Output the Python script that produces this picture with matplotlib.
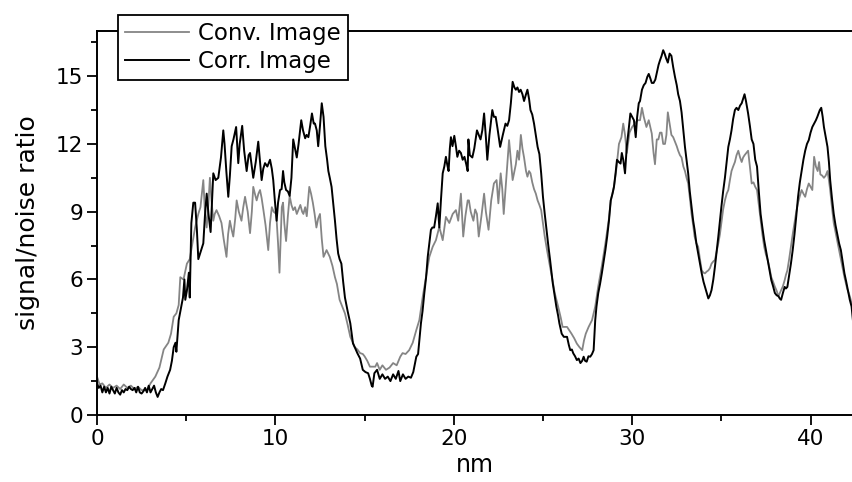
import numpy as np
import matplotlib.pyplot as plt

# Conventional image profile (grey)
conv_nm = [0.0, 0.15, 0.3, 0.5, 0.7, 0.9, 1.1, 1.3, 1.5, 1.7, 1.9, 2.1, 2.3, 2.5, 2.8, 3.0,
           3.27, 3.5, 3.74, 4.0, 4.15, 4.3, 4.45, 4.58, 4.67, 4.85, 5.04, 5.2, 5.35, 5.5, 5.68,
           5.8, 5.96, 6.05, 6.15, 6.25, 6.33, 6.42, 6.52, 6.6, 6.7, 6.85, 6.98, 7.1, 7.26, 7.35,
           7.45, 7.55, 7.64, 7.75, 7.83, 7.95, 8.1, 8.2, 8.3, 8.45, 8.58, 8.68, 8.76, 8.85, 8.95,
           9.05, 9.14, 9.23, 9.33, 9.45, 9.6, 9.7, 9.8, 9.9, 10.05, 10.15, 10.23, 10.3, 10.36,
           10.43, 10.5, 10.6, 10.7, 10.8, 10.9, 11.0, 11.1, 11.2, 11.3, 11.4, 11.5, 11.57, 11.67,
           11.76, 11.9, 12.0, 12.1, 12.2, 12.3, 12.4, 12.5, 12.6, 12.7, 12.87, 13.05, 13.2, 13.34,
           13.45, 13.6, 13.75, 13.9, 14.05, 14.2, 14.35, 14.45, 14.6, 14.75, 14.9, 15.0, 15.15,
           15.3, 15.45, 15.6, 15.7, 15.85, 16.0, 16.2, 16.4, 16.6, 16.8, 17.0, 17.13, 17.3, 17.5,
           17.7, 17.9, 18.07, 18.26, 18.44, 18.63, 18.82, 19.0, 19.19, 19.38, 19.56, 19.75, 19.94,
           20.12, 20.25, 20.4, 20.53, 20.65, 20.78, 20.85, 20.95, 21.1, 21.2, 21.3, 21.4, 21.55,
           21.7, 21.8, 21.95, 22.1, 22.25, 22.4, 22.5, 22.63, 22.72, 22.8, 22.9, 23.0, 23.1, 23.2,
           23.3, 23.4, 23.48, 23.57, 23.66, 23.76, 23.85, 23.94, 24.05, 24.13, 24.22, 24.3, 24.4,
           24.5, 24.6, 24.7, 24.8, 24.9, 25.0, 25.1, 25.25, 25.4, 25.55, 25.66, 25.85, 26.0, 26.1,
           26.35, 26.6, 26.75, 26.9, 27.05, 27.2, 27.3, 27.4, 27.56, 27.75, 27.93, 28.1, 28.3,
           28.5, 28.7, 28.8, 28.98, 29.1, 29.26, 29.4, 29.5, 29.6, 29.7, 29.85, 30.0, 30.15, 30.3,
           30.44, 30.55, 30.65, 30.8, 30.93, 31.1, 31.2, 31.28, 31.38, 31.47, 31.56, 31.65, 31.74,
           31.84, 31.92, 32.0, 32.1, 32.2, 32.3, 32.4, 32.5, 32.58, 32.68, 32.77, 32.87, 32.96,
           33.05, 33.14, 33.25, 33.33, 33.42, 33.5, 33.6, 33.7, 33.8, 33.9, 34.0, 34.08, 34.18,
           34.27, 34.36, 34.45, 34.55, 34.64, 34.73, 34.83, 34.92, 35.0, 35.1, 35.2, 35.3, 35.39,
           35.48, 35.57, 35.66, 35.76, 35.85, 35.95, 36.05, 36.14, 36.22, 36.3, 36.4, 36.5, 36.6,
           36.7, 36.8, 36.9, 37.0, 37.1, 37.2, 37.3, 37.4, 37.5, 37.6, 37.7, 37.8, 37.9, 38.0,
           38.1, 38.2, 38.28, 38.35, 38.45, 38.55, 38.62, 38.7, 38.8, 38.9, 39.0, 39.1, 39.2, 39.3,
           39.4, 39.5, 39.6, 39.7, 39.8, 39.9, 40.0, 40.1, 40.2, 40.3, 40.4, 40.48, 40.55, 40.65,
           40.75, 40.85, 40.95, 41.03, 41.1, 41.2, 41.3, 41.45, 41.6, 41.75, 41.9, 42.05, 42.2,
           42.35, 42.45]
conv_snr = [1.7, 1.35, 1.4, 1.2, 1.35, 1.2, 1.3, 1.15, 1.35, 1.2, 1.3, 1.15, 1.25, 1.1, 1.1, 1.4,
            1.7, 2.1, 2.9, 3.2, 3.6, 4.35, 4.5, 4.87, 6.1, 6.0, 6.7, 6.9, 7.6, 8.3, 8.9,
            9.2, 10.4, 9.0, 8.3, 9.4, 10.5, 9.5, 8.6, 8.9, 9.07, 8.8, 8.5, 7.8, 7.0, 8.0,
            8.6, 8.2, 7.9, 8.7, 9.5, 9.0, 8.6, 9.2, 9.66, 9.0, 8.05, 9.0, 10.1, 9.8, 9.5,
            9.8, 9.96, 9.6, 9.07, 8.4, 7.3, 8.5, 9.2, 9.0, 8.9, 7.6, 6.3, 7.8, 9.2,
            9.4, 8.5, 7.7, 8.8, 9.7, 9.3, 9.07, 9.2, 8.9, 9.1, 9.3, 9.0, 8.9, 9.2,
            8.8, 10.1, 9.8, 9.4, 8.9, 8.3, 8.7, 8.9, 7.8, 7.0, 7.3, 7.0, 6.6, 6.1,
            5.8, 5.1, 4.8, 4.5, 4.0, 3.46, 3.2, 3.0, 2.9, 2.74, 2.7, 2.6, 2.4,
            2.14, 2.14, 2.14, 2.3, 2.0, 2.2, 2.0, 2.1, 2.3, 2.2, 2.58, 2.74, 2.7, 2.87,
            3.2, 3.76, 4.2, 5.23, 6.1, 7.0, 7.45, 7.74, 8.33, 7.74, 8.77, 8.5, 8.9,
            9.07, 8.6, 9.8, 7.9, 8.8, 9.5, 9.5, 9.0, 8.6, 9.1, 8.9, 7.9, 8.8,
            9.8, 9.0, 8.2, 9.5, 10.25, 10.4, 9.37, 10.7, 10.0, 8.9, 10.0, 11.1, 12.17, 11.3,
            10.4, 10.8, 11.1, 11.7, 11.3, 12.4, 11.8, 11.4, 10.8, 10.55, 10.8, 10.7, 10.3,
            10.0, 9.8, 9.5, 9.3, 9.07, 8.5, 7.9, 7.2, 6.56, 5.9, 5.4, 4.8, 4.3, 3.9,
            3.9, 3.6, 3.4, 3.16, 3.0, 2.87, 3.3, 3.6, 3.9, 4.2, 4.8, 5.7, 6.6,
            7.6, 8.7, 9.5, 10.1, 10.8, 12.0, 12.3, 12.9, 12.4, 11.6, 12.5, 12.75, 12.9, 13.05,
            13.05, 13.6, 13.2, 12.75, 13.05, 12.46, 11.6, 11.1, 12.2, 12.2, 12.5, 12.5, 12.0,
            12.0, 12.4, 13.4, 12.9, 12.4, 12.3, 12.1, 11.9, 11.7, 11.5, 11.4, 11.0, 10.8,
            10.5, 10.25, 9.5, 8.9, 8.4, 7.9, 7.6, 7.45, 6.9, 6.4, 6.3, 6.27, 6.35,
            6.4, 6.5, 6.7, 6.8, 6.86, 7.2, 7.6, 8.0, 8.5, 9.1, 9.5, 9.8, 9.96,
            10.4, 10.8, 11.0, 11.2, 11.5, 11.7, 11.4, 11.2, 11.4, 11.5, 11.6, 11.7, 11.0,
            10.25, 10.3, 10.1, 9.96, 9.3, 8.6, 8.0, 7.45, 7.1, 6.86, 6.5, 6.1, 5.9, 5.68,
            5.5, 5.26, 5.4, 5.53, 5.7, 5.97, 6.2, 6.4, 6.9, 7.45, 8.0, 8.5, 9.0, 9.4,
            9.7, 9.96, 9.8, 9.66, 10.0, 10.25, 10.1, 9.96, 11.43, 11.0, 10.8, 11.2, 10.65, 10.6,
            10.5, 10.6, 10.8, 10.4, 9.96, 9.2, 8.5, 7.9, 7.3, 6.7, 6.1, 5.6, 5.26,
            4.8, 4.4]

# Correlated image profile (black)
corr_nm = [0.0, 0.1, 0.2, 0.3, 0.4, 0.5, 0.6, 0.7, 0.8, 0.9, 1.0, 1.1, 1.2, 1.3, 1.4, 1.5,
           1.6, 1.7, 1.8, 1.9, 2.0, 2.1, 2.2, 2.3, 2.4, 2.5, 2.6, 2.7, 2.8, 2.9, 3.0, 3.1, 3.2,
           3.3, 3.4, 3.5, 3.6, 3.7, 3.83, 3.95, 4.1, 4.2, 4.3, 4.4, 4.45, 4.58, 4.7, 4.82, 4.9,
           4.95, 5.04, 5.15, 5.2, 5.29, 5.4, 5.5, 5.6, 5.68, 5.8, 5.96, 6.05, 6.15, 6.25, 6.37,
           6.45, 6.52, 6.65, 6.8, 6.95, 7.08, 7.15, 7.25, 7.36, 7.45, 7.55, 7.65, 7.8, 7.92, 8.0,
           8.14, 8.25, 8.39, 8.5, 8.58, 8.68, 8.76, 8.9, 9.04, 9.14, 9.23, 9.32, 9.42, 9.55, 9.7,
           9.8, 9.88, 9.97, 10.07, 10.15, 10.26, 10.35, 10.43, 10.5, 10.6, 10.7, 10.8, 10.9, 11.0,
           11.1, 11.2, 11.3, 11.45, 11.55, 11.67, 11.75, 11.85, 11.95, 12.05, 12.15, 12.22, 12.32,
           12.4, 12.5, 12.6, 12.7, 12.8, 12.9, 12.97, 13.05, 13.15, 13.25, 13.34, 13.43, 13.52,
           13.6, 13.7, 13.8, 13.9, 14.05, 14.2, 14.35, 14.45, 14.6, 14.75, 14.9, 15.05, 15.2,
           15.3, 15.4, 15.45, 15.55, 15.7, 15.85, 16.0, 16.15, 16.3, 16.45, 16.6, 16.75, 16.9,
           17.0, 17.15, 17.3, 17.45, 17.6, 17.73, 17.9, 18.0, 18.16, 18.25, 18.35, 18.45, 18.54,
           18.63, 18.72, 18.8, 18.9, 19.0, 19.1, 19.19, 19.28, 19.38, 19.47, 19.56, 19.63, 19.71,
           19.78, 19.84, 19.93, 20.03, 20.12, 20.2, 20.3, 20.4, 20.5, 20.6, 20.7, 20.78, 20.82,
           20.9, 21.04, 21.15, 21.3, 21.4, 21.5, 21.6, 21.7, 21.8, 21.88, 22.0, 22.16, 22.25,
           22.35, 22.45, 22.6, 22.75, 22.9, 23.0, 23.1, 23.2, 23.3, 23.4, 23.48, 23.57, 23.66,
           23.75, 23.85, 23.94, 24.05, 24.13, 24.22, 24.3, 24.4, 24.5, 24.6, 24.7, 24.8, 24.9,
           25.0, 25.1, 25.2, 25.3, 25.4, 25.55, 25.65, 25.75, 25.85, 25.92, 26.05, 26.17, 26.35,
           26.45, 26.53, 26.62, 26.7, 26.8, 26.9, 27.0, 27.1, 27.2, 27.28, 27.36, 27.45, 27.55,
           27.65, 27.75, 27.84, 27.93, 28.0, 28.1, 28.2, 28.3, 28.4, 28.5, 28.6, 28.7, 28.8, 28.9,
           28.98, 29.07, 29.15, 29.25, 29.35, 29.42, 29.5, 29.6, 29.7, 29.8, 29.9, 30.0, 30.1,
           30.2, 30.28, 30.37, 30.44, 30.55, 30.65, 30.75, 30.85, 30.93, 31.02, 31.1, 31.2, 31.3,
           31.4, 31.48, 31.56, 31.65, 31.74, 31.82, 31.9, 32.0, 32.1, 32.2, 32.3, 32.4, 32.5,
           32.58, 32.68, 32.77, 32.87, 32.96, 33.05, 33.14, 33.23, 33.33, 33.42, 33.5, 33.6, 33.7,
           33.8, 33.9, 34.0, 34.08, 34.18, 34.27, 34.36, 34.45, 34.55, 34.64, 34.73, 34.83, 34.92,
           35.0, 35.1, 35.2, 35.3, 35.39, 35.48, 35.57, 35.66, 35.76, 35.85, 35.95, 36.05, 36.14,
           36.22, 36.3, 36.38, 36.5, 36.6, 36.7, 36.8, 36.9, 37.0, 37.1, 37.2, 37.3, 37.4, 37.5,
           37.6, 37.7, 37.8, 37.9, 38.0, 38.1, 38.2, 38.28, 38.35, 38.45, 38.55, 38.62, 38.7,
           38.8, 38.9, 39.0, 39.1, 39.2, 39.3, 39.4, 39.5, 39.6, 39.7, 39.8, 39.9, 40.0, 40.1,
           40.2, 40.3, 40.38, 40.45, 40.52, 40.6, 40.68, 40.75, 40.85, 40.95, 41.03, 41.1, 41.2,
           41.3, 41.4, 41.5, 41.6, 41.7, 41.8, 41.9, 42.0, 42.1, 42.2, 42.3, 42.4, 42.45]
corr_snr = [1.4, 1.2, 1.3, 1.0, 1.25, 1.0, 1.2, 0.95, 1.25, 1.1, 0.95, 1.2, 1.0, 0.9, 1.1, 1.0,
            1.15, 1.1, 1.25, 1.15, 1.1, 1.2, 1.0, 1.25, 1.0, 0.95, 1.05, 1.2, 1.0, 1.3, 1.0, 1.15, 1.3,
            1.0, 0.8, 1.0, 1.15, 1.1, 1.4, 1.7, 2.0, 2.4, 3.0, 3.2, 2.8, 4.2, 4.7, 5.2, 6.0,
            5.1, 5.5, 6.3, 5.2, 8.5, 9.4, 9.4, 8.2, 6.9, 7.2, 7.6, 8.8, 9.8, 8.9, 8.1,
            9.5, 10.7, 10.4, 10.5, 11.4, 12.6, 12.0, 10.8, 9.66, 10.6, 11.9, 12.2, 12.75, 11.15, 12.0,
            12.8, 11.7, 10.8, 11.5, 11.6, 11.0, 10.5, 11.2, 12.1, 11.2, 10.4, 10.9, 11.15, 11.0, 11.3,
            10.9, 10.4, 9.5, 8.6, 9.4, 9.96, 10.0, 10.8, 10.3, 9.96, 9.9, 9.7, 10.5, 12.2,
            11.8, 11.4, 12.0, 13.05, 12.6, 12.25, 12.4, 12.3, 12.8, 13.35, 12.9, 12.9, 12.6,
            11.9, 12.8, 13.8, 13.2, 11.9, 11.3, 10.8, 10.5, 10.1, 9.3, 8.6, 7.8, 7.15,
            6.9, 6.7, 5.9, 5.2, 4.6, 4.06, 3.17, 3.0, 2.73, 2.5, 2.0, 1.9, 1.85,
            1.6, 1.3, 1.25, 1.85, 2.0, 1.6, 1.8, 1.6, 1.7, 1.5, 1.8, 1.6, 1.95,
            1.5, 1.8, 1.6, 1.7, 1.65, 1.9, 2.58, 2.7, 4.06, 4.6, 5.4, 6.1, 7.0,
            7.6, 8.2, 8.3, 8.3, 8.8, 9.37, 8.3, 9.5, 10.7, 11.0, 11.43, 11.1, 10.8,
            11.8, 12.3, 11.9, 12.36, 11.9, 11.43, 11.7, 11.6, 11.3, 11.43, 11.1, 10.8, 12.2,
            11.5, 11.4, 11.8, 12.6, 12.4, 12.2, 12.6, 13.35, 12.3, 11.3, 12.4, 13.5, 13.2,
            13.2, 12.7, 11.87, 12.4, 12.9, 12.8, 13.05, 13.8, 14.75, 14.5, 14.4, 14.5, 14.3,
            14.4, 14.2, 13.9, 14.2, 14.4, 14.0, 13.5, 13.3, 12.9, 12.4, 11.87, 11.55, 10.7,
            9.66, 8.9, 8.2, 7.5, 6.86, 5.83, 5.3, 4.8, 4.4, 4.06, 3.6, 3.46, 3.46,
            3.1, 2.87, 2.9, 2.73, 2.6, 2.43, 2.5, 2.3, 2.4, 2.58, 2.4, 2.36, 2.6,
            2.58, 2.7, 2.87, 4.2, 4.8, 5.4, 5.8, 6.27, 6.8, 7.3, 7.9, 8.6, 9.5, 9.8,
            10.1, 10.7, 11.3, 11.2, 11.13, 11.6, 11.3, 10.7, 11.9, 12.6, 13.35, 13.2, 13.05,
            12.3, 13.2, 13.8, 13.9, 14.4, 14.6, 14.7, 14.97, 15.1, 14.9, 14.7, 14.7, 14.85,
            15.2, 15.5, 15.7, 15.9, 16.15, 16.0, 15.8, 15.6, 16.0, 15.9, 15.4, 14.97, 14.6,
            14.2, 13.9, 13.4, 12.6, 11.87, 11.3, 10.7, 9.9, 9.2, 8.6, 8.2, 7.6, 7.15,
            6.7, 6.27, 5.9, 5.68, 5.4, 5.16, 5.3, 5.53, 6.0, 6.56, 7.2, 7.9, 8.6,
            9.2, 9.9, 10.5, 11.2, 11.87, 12.2, 12.6, 13.1, 13.5, 13.6, 13.5, 13.7, 13.8,
            14.0, 14.2, 13.9, 13.35, 12.8, 12.2, 12.0, 11.3, 11.0, 9.9, 8.9, 8.3, 7.74, 7.3,
            6.86, 6.4, 5.97, 5.7, 5.4, 5.3, 5.26, 5.15, 5.1, 5.4, 5.67, 5.6, 5.67,
            6.2, 6.7, 7.3, 8.0, 8.8, 9.66, 10.3, 10.8, 11.3, 11.7, 12.0, 12.17, 12.5, 12.75,
            12.9, 13.05, 13.2, 13.35, 13.5, 13.6, 13.2, 12.75, 12.3, 11.87, 11.2, 10.4, 9.6,
            8.9, 8.4, 8.0, 7.6, 7.3, 6.8, 6.27, 5.9, 5.5, 5.1, 4.8, 4.0, 3.4]

x_ticks = [0, 10, 20, 30, 40]
y_ticks = [0, 3, 6, 9, 12, 15]

fig = plt.figure(figsize=(8.53, 4.82), dpi=100)
ax = fig.add_axes([0.1137, 0.1390, 0.8863, 0.7967])

ax.plot(conv_nm, conv_snr, color='#858585', lw=1.3, label='Conv. Image')
ax.plot(corr_nm, corr_snr, color='black', lw=1.4, label='Corr. Image')

ax.set_xlim(0, 42.38)
ax.set_ylim(0, 17)
ax.set_xticks(x_ticks)
ax.set_yticks(y_ticks)
ax.set_xticks(np.arange(5, 42, 10), minor=True)
ax.set_yticks(np.arange(1.5, 17, 3), minor=True)
ax.tick_params(which='major', direction='out', length=7, width=1.3, labelsize=15.5, pad=3)
ax.tick_params(which='minor', direction='out', length=4, width=1.3)

# no right frame; top frame is hidden behind the legend on the left
ax.spines['right'].set_visible(False)
for s in ['left', 'bottom', 'top']:
    ax.spines[s].set_linewidth(1.4)

ax.set_xlabel('nm', fontsize=17, labelpad=3)
ax.set_ylabel('signal/noise ratio', fontsize=18, labelpad=11)

leg = ax.legend(loc='upper left', bbox_to_anchor=(0.0278, 1.042), borderaxespad=0,
                fontsize=16.5, fancybox=False, framealpha=1, edgecolor='black',
                handlelength=2.8, handletextpad=0.4, labelspacing=0.25, borderpad=0.3)
leg.get_frame().set_linewidth(1.3)

fig.savefig('out.png', dpi=100)
